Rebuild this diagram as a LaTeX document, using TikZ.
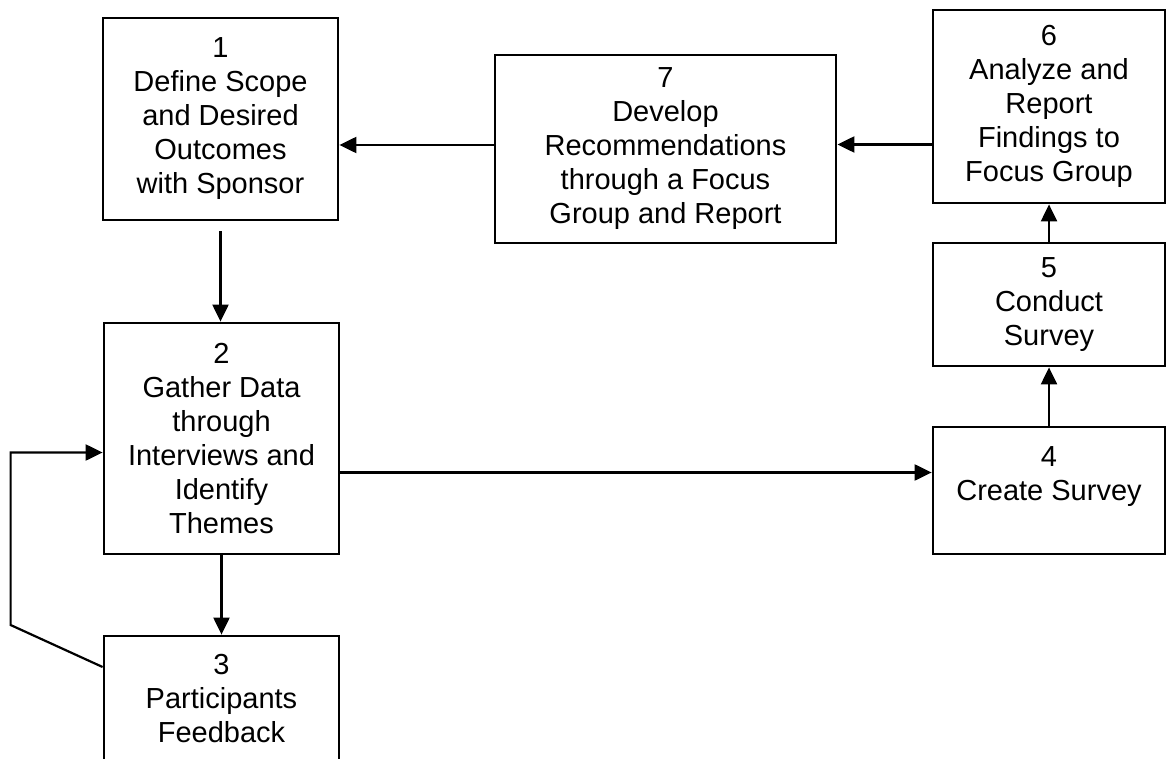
\documentclass[tikz,border=0pt]{standalone}
\usepackage{fontspec}
\setmainfont{Liberation Sans}
\usetikzlibrary{arrows.meta, positioning, calc}
\tikzset{
    stepbox/.style={draw, line width=1.4pt, align=center, inner sep=0pt,
        font=\fontsize{14.5}{17}\selectfont},
    flowarrow/.style={line width=1.1pt, -{Triangle[length=8.5pt, width=8pt]}}
}

\begin{document}
\begin{tikzpicture}[x=0.5pt, y=-0.5pt]
        \useasboundingbox (0,0) rectangle (1166,759);
        \clip (0,0) rectangle (1166,759);

        % Left column
        \node[stepbox, minimum width=117.5pt, minimum height=101pt] (scope) at (220.5,119) {1\\Define Scope\\and Desired\\Outcomes\\with Sponsor};
        \node[stepbox, minimum width=117.5pt, minimum height=115.5pt] (gather) at (221.5,438.5) {2\\Gather Data\\through\\Interviews and\\Identify\\Themes};
        \node[stepbox, minimum width=117.5pt, minimum height=63pt] (feedback) at (221.5,699) {3\\Participants\\Feedback};

        % Right column
        \node[stepbox, minimum width=116pt, minimum height=63.5pt] (create) at (1049,490.5) {4\\Create Survey\\\mbox{}};
        \node[stepbox, minimum width=116pt, minimum height=61.5pt] (conduct) at (1049,304.5) {5\\Conduct\\Survey};
        \node[stepbox, minimum width=116pt, minimum height=96.5pt] (analyze) at (1049,106.5) {6\\Analyze and\\Report\\Findings to\\Focus Group};

        % Top middle
        \node[stepbox, minimum width=170.5pt, minimum height=94pt] (develop) at (665.5,149) {7\\Develop\\Recommendations\\through a Focus\\Group and Report};

        % Flow
        \draw[flowarrow, shorten <=5pt] (scope.south) -- (scope.south |- gather.north);
        \draw[flowarrow] (gather.south) -- (gather.south |- feedback.north);
        \draw[flowarrow] ($(gather.east)+(0,-17pt)$) coordinate (gout) -- (gout -| create.west);
        \draw[flowarrow] (create.north) -- (conduct.south);
        \draw[flowarrow] (conduct.north) -- (analyze.south);
        \draw[flowarrow] ($(analyze.west)+(0,-19pt)$) coordinate (aout) -- (aout -| develop.east);
        \draw[flowarrow] ($(develop.west)+(0,2pt)$) coordinate (dout) -- (dout -| scope.east);

        % Feedback loop
        \draw[flowarrow] ($(feedback.west)+(0,16pt)$) -- ++(-46pt,21pt) |- ($(gather.west)+(0,-7pt)$);
    \end{tikzpicture}
\end{document}
